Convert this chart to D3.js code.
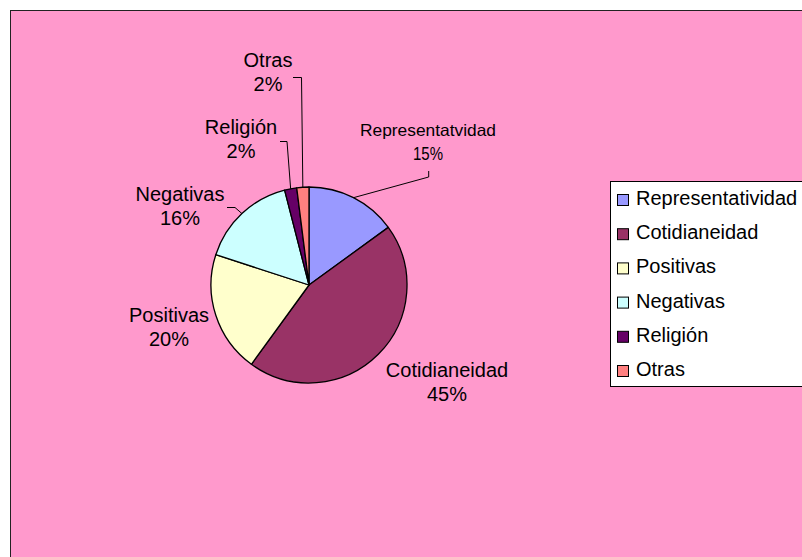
<!DOCTYPE html>
<html>
<head>
<meta charset="utf-8">
<script src="https://cdn.jsdelivr.net/npm/d3@7"></script>
<style>
  html, body { margin: 0; padding: 0; background: #ffffff; overflow: hidden; }
  svg { display: block; font-family: "Liberation Sans", Arial, sans-serif; }
</style>
</head>
<body>
<svg id="chart" width="802" height="557"></svg>
<script>
// Categories and their shares (%)
const categories = ["Representatividad", "Cotidianeidad", "Positivas", "Negativas", "Religión", "Otras"];
const values = [15, 45, 20, 16, 2, 2];
const sliceLabels = ["Representatvidad", "Cotidianeidad", "Positivas", "Negativas", "Religión", "Otras"];
const colors = ["#9999FF", "#993366", "#FFFFCC", "#CCFFFF", "#660066", "#FF8080"];

// Layout: label anchors (centre x, first baseline y) and leader elbows
const labelLayout = [
  { x: 428, y: 136, size: 16.5, fit: 136, pctFit: 30, leader: [[428.7, 171], [428.7, 177]] },
  { x: 447, y: 377, size: 20 },
  { x: 169, y: 322, size: 20 },
  { x: 180, y: 201, size: 20, leader: [[227, 207.5], [235, 207.5]] },
  { x: 241, y: 134, size: 20, leader: [[280, 141.5], [287, 141.5]] },
  { x: 268, y: 67,  size: 20, leader: [[293, 77.5], [301.5, 77.5]] }
];

const svg = d3.select("#chart");

// Chart area
svg.append("rect")
  .attr("x", 10.5).attr("y", 10.5)
  .attr("width", 800).attr("height", 560)
  .attr("fill", "#FF99CC")
  .attr("stroke", "#222").attr("stroke-width", 1);

const cx = 309, cy = 285, r = 98;
const g = svg.append("g").attr("transform", `translate(${cx},${cy})`);

const pie = d3.pie().sort(null).value(d => d);
const arcs = pie(values);
const arc = d3.arc().innerRadius(0).outerRadius(r);

g.selectAll("path.slice")
  .data(arcs)
  .join("path")
  .attr("class", "slice")
  .attr("d", arc)
  .attr("fill", (d, i) => colors[i])
  .attr("stroke", "#000")
  .attr("stroke-width", 1.3)
  .attr("stroke-linejoin", "round");

// Leader lines from label elbows to the slice rim
const line = d3.line();
arcs.forEach((d, i) => {
  const L = labelLayout[i];
  if (!L.leader) return;
  const mid = (d.startAngle + d.endAngle) / 2;
  const end = [cx + r * Math.sin(mid), cy - r * Math.cos(mid)];
  svg.append("path")
    .attr("d", line([...L.leader, end]))
    .attr("fill", "none")
    .attr("stroke", "#000")
    .attr("stroke-width", 1);
});

// Slice labels: name and percentage
arcs.forEach((d, i) => {
  const L = labelLayout[i];
  const t = svg.append("text")
    .attr("x", L.x).attr("y", L.y)
    .attr("text-anchor", "middle")
    .attr("font-size", L.size)
    .attr("fill", "#000")
    .text(sliceLabels[i]);
  if (L.fit) t.attr("textLength", L.fit).attr("lengthAdjust", "spacingAndGlyphs");
  const p = svg.append("text")
    .attr("x", L.x).attr("y", L.y + 24)
    .attr("text-anchor", "middle")
    .attr("font-size", L.fit ? 17.5 : L.size)
    .attr("fill", "#000")
    .text(`${values[i]}%`);
  if (L.pctFit) p.attr("textLength", L.pctFit).attr("lengthAdjust", "spacingAndGlyphs");
});

// Legend
const legend = svg.append("g");
legend.append("rect")
  .attr("x", 610.5).attr("y", 181.5)
  .attr("width", 220).attr("height", 205)
  .attr("fill", "#ffffff")
  .attr("stroke", "#000").attr("stroke-width", 1);

const rowY = d3.scalePoint().domain(categories).range([205, 376]);
const items = legend.selectAll("g.item")
  .data(categories)
  .join("g")
  .attr("class", "item")
  .attr("transform", d => `translate(0,${rowY(d)})`);

items.append("rect")
  .attr("x", 617.5).attr("y", -10.5)
  .attr("width", 11).attr("height", 11)
  .attr("fill", (d, i) => colors[i])
  .attr("stroke", "#000").attr("stroke-width", 1);

items.append("text")
  .attr("x", 636).attr("y", 0)
  .attr("font-size", 20)
  .attr("fill", "#000")
  .text(d => d);
</script>
</body>
</html>
